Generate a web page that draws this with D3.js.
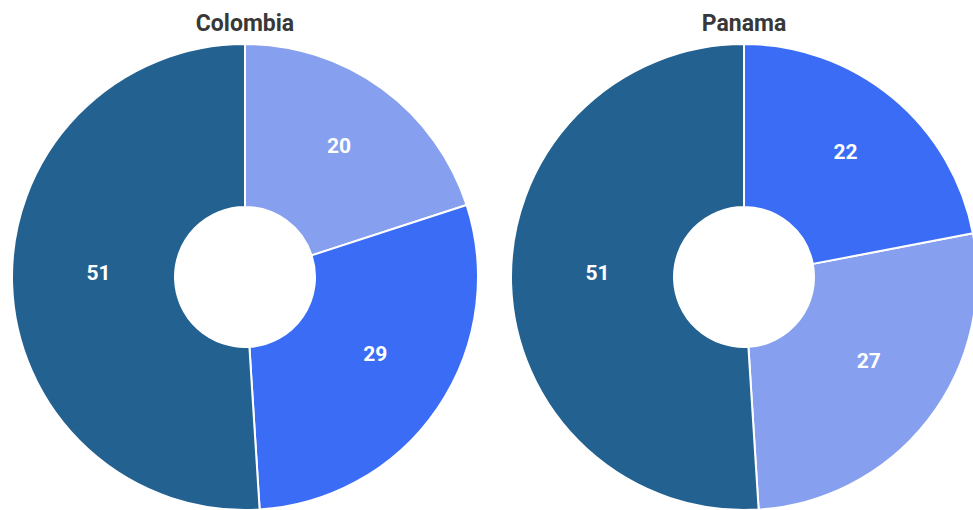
<!DOCTYPE html>
<html>
<head>
<meta charset="utf-8">
<script src="https://cdn.jsdelivr.net/npm/d3@7"></script>
<style>
  html, body { margin: 0; padding: 0; background: #ffffff; }
  svg { display: block; }
</style>
</head>
<body>
<svg id="chart" width="973" height="510"></svg>
<script>
// Countries and the share of each group, one array per country
const countries = ["Colombia", "Panama"];
const groups = ["Group A", "Group B", "Group C"];
const colombiaValues = [20, 29, 51];
const panamaValues = [27, 22, 51];
const groupColors = ["#86a0ef", "#3b6cf6", "#236190"];

const seriesByCountry = [colombiaValues, panamaValues];

const width = 973, height = 510;
const svg = d3.select("#chart");

const outerR = 233, innerR = 70;
const cy = 277;

const x = d3.scalePoint().domain(countries).range([245, 744]);
const color = d3.scaleOrdinal().domain(groups).range(groupColors);

// slices run clockwise from 12 o'clock, smallest first
const pie = d3.pie()
  .value(d => d.value)
  .sort((a, b) => a.value - b.value)
  .startAngle(0)
  .endAngle(2 * Math.PI);

const arc = d3.arc().innerRadius(innerR).outerRadius(outerR);
const labelArc = d3.arc().innerRadius((innerR + outerR) / 2).outerRadius((innerR + outerR) / 2);

countries.forEach((country, i) => {
  const rows = groups.map((g, j) => ({ group: g, value: seriesByCountry[i][j] }));
  const g = svg.append("g").attr("transform", `translate(${x(country)},${cy})`);

  g.selectAll("path")
    .data(pie(rows))
    .join("path")
    .attr("d", arc)
    .attr("fill", d => color(d.data.group))
    .attr("stroke", "#ffffff")
    .attr("stroke-width", 2)
    .attr("stroke-linejoin", "round");

  // value labels sit slightly up and to the right of each slice's centroid
  g.append("g")
    .attr("transform", "translate(5,-9)")
    .selectAll("text.value")
    .data(pie(rows))
    .join("text")
    .attr("class", "value")
    .attr("transform", d => `translate(${labelArc.centroid(d)})`)
    .attr("text-anchor", "middle")
    .attr("dy", "0.35em")
    .attr("fill", "#ffffff")
    .attr("font-family", "Roboto, sans-serif")
    .attr("font-weight", 700)
    .attr("font-size", 21)
    .text(d => d.data.value);

  svg.append("text")
    .attr("x", x(country))
    .attr("y", 31)
    .attr("text-anchor", "middle")
    .attr("fill", "#383838")
    .attr("font-family", "Roboto, sans-serif")
    .attr("font-weight", 700)
    .attr("font-size", 23)
    .text(country);
});
</script>
</body>
</html>
